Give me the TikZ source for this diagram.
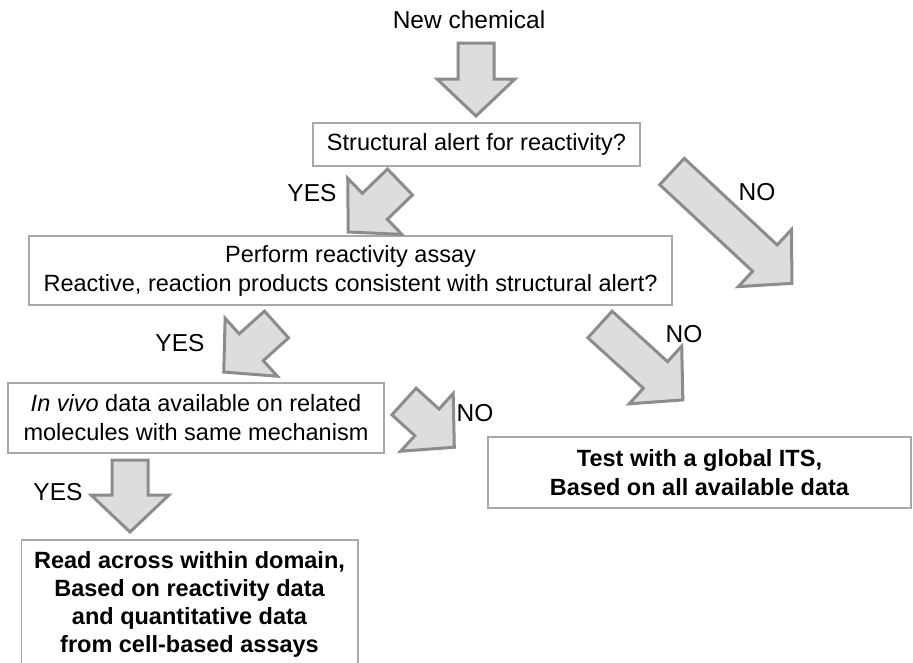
\documentclass[tikz,border=0pt]{standalone}
\usepackage{fontspec}
\setmainfont{Liberation Sans}
\usetikzlibrary{calc}
\definecolor{afill}{RGB}{221,221,221}
\definecolor{aline}{RGB}{140,140,140}
\definecolor{bline}{RGB}{168,168,168}
\tikzset{
  barrow/.style={draw=aline, fill=afill, line width=3pt, line join=miter},
  boxline/.style={draw=bline, line width=1.5pt},
  box/.style={boxline, align=center, inner sep=0pt, font=\fontsize{23.5}{29}\selectfont},
  boldbox/.style={box, font=\bfseries\fontsize{23.5}{29}\selectfont},
  lbl/.style={inner sep=0pt, font=\fontsize{24.5}{29}\selectfont},
}
\newcommand{\blockarr}[3]{%
  \pgfmathsetmacro{\bL}{#3}\pgfmathsetmacro{\bB}{#3-37}%
  \begin{scope}[shift={(#1)}, rotate=#2]
    \draw[barrow] (0,-18) -- (\bB,-18) -- (\bB,-39) -- (\bL,0) -- (\bB,39) -- (\bB,18) -- (0,18) -- cycle;
  \end{scope}}
\begin{document}
\begin{tikzpicture}[x=1pt,y=1pt]
\useasboundingbox (0,0) rectangle (913,-662);
\clip (0,0) rectangle (913,-662);
\fill[white] (0,0) rectangle (913,-662);

% boxes
\node[box, minimum width=327, minimum height=43] (box1) at (476.5,-144.5) {Structural alert for reactivity?};
\node[box, minimum width=643, minimum height=69] (box2) at (350.5,-270.5) {Perform reactivity assay\\Reactive, reaction products consistent with structural alert?};
\node[box, minimum width=376, minimum height=70] (box3) at (196,-418) {\textit{In vivo} data available on related\\molecules with same mechanism};
\node[boldbox, minimum width=423, minimum height=71] (box4) at (699.5,-472.5) {Test with a global ITS,\\Based on all available data};
\node[boldbox, draw=none, anchor=north, inner ysep=11, minimum width=335, font=\bfseries\fontsize{23.5}{28}\selectfont] (box5) at (189.5,-540) {Read across within domain,\\Based on reactivity data\\and quantitative data\\from cell-based assays};
\draw[boxline] ([yshift=-80]box5.south west) |- (box5.north east) -- ([yshift=-80]box5.south east);

% arrow start points
\coordinate (a1) at (476,-43);
\coordinate (a2) at (400,-182);
\coordinate (a3) at (672,-171.5);
\coordinate (a4) at (276.5,-324.5);
\coordinate (a5) at (600,-324.5);
\coordinate (a6) at (404,-401.5);
\coordinate (a7) at (130,-460);

\blockarr{a1}{-90}{73}
\blockarr{a2}{-136}{72}
\blockarr{a3}{-43}{164}
\blockarr{a4}{-138}{71}
\blockarr{a5}{-42.3}{112}
\blockarr{a6}{-42.3}{68}
\blockarr{a7}{-90}{72}

% labels
\node[lbl] (newchem) at (469,-20) {New chemical};
\node[lbl] (yes1) at (312,-193) {YES};
\node[lbl] (no1) at (757,-192) {NO};
\node[lbl] (yes2) at (180,-343) {YES};
\node[lbl] (no2) at (684,-334) {NO};
\node[lbl] (no3) at (475,-413) {NO};
\node[lbl] (yes3) at (58,-492) {YES};
\end{tikzpicture}
\end{document}
